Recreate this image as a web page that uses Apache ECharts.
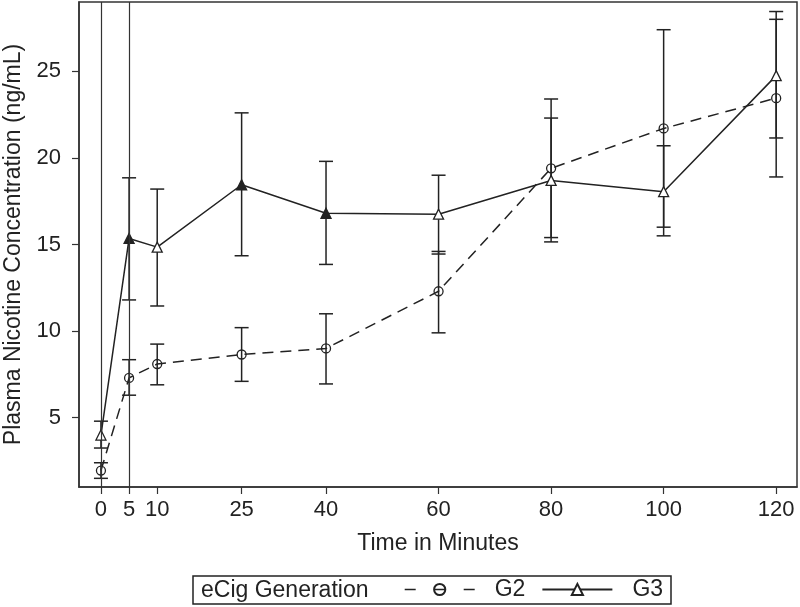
<!DOCTYPE html>
<html>
<head>
<meta charset="utf-8">
<script src="https://cdn.jsdelivr.net/npm/echarts@6/dist/echarts.min.js"></script>
<style>
html,body{margin:0;padding:0;background:#fff;}
#chart{width:800px;height:607px;}
</style>
</head>
<body>
<div id="chart"></div>
<script>
var times = [0, 5, 10, 25, 40, 60, 80, 100, 120];
var xTicks = [0, 5, 10, 25, 40, 60, 80, 100, 120];
var yTicks = [5, 10, 15, 20, 25];
var refLines = [0, 5];

var g2Mean = [1.95, 7.3, 8.1, 8.65, 9.0, 12.3, 19.4, 21.7, 23.45];
var g2Low  = [1.5, 6.3, 6.9, 7.1, 6.95, 9.9, 15.4, 16.0, 18.9];
var g2High = [2.4, 8.35, 9.25, 10.2, 11.0, 14.6, 23.4, 27.4, 28.0];

var g3Mean = [4.0, 15.35, 14.85, 18.45, 16.8, 16.75, 18.7, 18.05, 24.75];
var g3Low  = [3.25, 11.8, 11.45, 14.35, 13.85, 14.45, 15.15, 15.5, 21.15];
var g3High = [4.8, 18.85, 18.2, 22.6, 19.8, 19.0, 22.3, 20.7, 28.45];
var g3Filled = [false, true, false, true, true, false, false, false, false];

var INK = '#222';
var FONT = 'Liberation Sans, Arial, sans-serif';

function errData(lo, hi) {
  return times.map(function (t, i) { return [t, lo[i], hi[i]]; });
}
function errRender(params, api) {
  var x = api.value(0);
  var p1 = api.coord([x, api.value(1)]);
  var p2 = api.coord([x, api.value(2)]);
  var hw = 7;
  var st = { stroke: INK, lineWidth: 1.5 };
  return {
    type: 'group',
    children: [
      { type: 'line', shape: { x1: p1[0], y1: p1[1], x2: p2[0], y2: p2[1] }, style: st },
      { type: 'line', shape: { x1: p1[0] - hw, y1: p1[1], x2: p1[0] + hw, y2: p1[1] }, style: st },
      { type: 'line', shape: { x1: p2[0] - hw, y1: p2[1], x2: p2[0] + hw, y2: p2[1] }, style: st }
    ]
  };
}

var chart = echarts.init(document.getElementById('chart'));
chart.setOption({
  animation: false,
  backgroundColor: '#fff',
  textStyle: { fontFamily: FONT, color: INK },
  grid: { left: 79, right: 3, top: 2, bottom: 120, containLabel: false, outerBoundsMode: 'none', show: true, borderColor: '#333', borderWidth: 1.5, backgroundColor: '#fff' },
  xAxis: {
    type: 'value', min: -3.9, max: 123.7,
    name: 'Time in Minutes', nameLocation: 'middle', nameGap: 45,
    nameTextStyle: { fontSize: 23, color: INK, fontFamily: FONT },
    splitLine: { show: false },
    axisLine: { show: true, onZero: false, lineStyle: { color: '#333', width: 1.5 } },
    axisTick: { show: true, length: 7, customValues: xTicks, lineStyle: { color: '#333', width: 1.2 } },
    axisLabel: { customValues: xTicks, fontSize: 22, color: INK, margin: 12, fontFamily: FONT }
  },
  yAxis: {
    type: 'value', min: 1, max: 29,
    name: 'Plasma Nicotine Concentration (ng/mL)', nameLocation: 'middle', nameGap: 52,
    nameTextStyle: { fontSize: 23, color: INK, fontFamily: FONT },
    splitLine: { show: false },
    axisLine: { show: true, onZero: false, lineStyle: { color: '#333', width: 1.5 } },
    axisTick: { show: true, length: 7, customValues: yTicks, lineStyle: { color: '#333', width: 1.2 } },
    axisLabel: { customValues: yTicks, fontSize: 22, color: INK, margin: 18, fontFamily: FONT }
  },
  legend: {
    left: 404, top: 578, itemGap: 16, padding: 0,
    itemWidth: 70, itemHeight: 14,
    textStyle: { fontSize: 23, color: INK, fontFamily: FONT, padding: [0, 0, 0, 15] },
    data: [
      { name: 'G2', lineStyle: { type: [11, 18.5], color: INK, width: 1.4 } },
      { name: 'G3' }
    ]
  },
  graphic: [
    { type: 'rect', shape: { x: 193, y: 576, width: 478, height: 28 }, style: { fill: 'none', stroke: '#222', lineWidth: 1.5 } },
    { type: 'text', x: 201, y: 591, style: { text: 'eCig Generation', fontSize: 23, fontFamily: FONT, fill: INK, verticalAlign: 'middle' } }
  ],
  series: [
    {
      type: 'line', name: 'refLines', data: [], silent: true,
      markLine: {
        symbol: 'none', silent: true, label: { show: false },
        lineStyle: { color: '#333', width: 1.2, type: 'solid' },
        data: refLines.map(function (v) { return { xAxis: v }; })
      }
    },
    { type: 'custom', name: 'G2 err', renderItem: errRender, data: errData(g2Low, g2High), encode: { x: 0, y: [1, 2] }, z: 1 },
    { type: 'custom', name: 'G3 err', renderItem: errRender, data: errData(g3Low, g3High), encode: { x: 0, y: [1, 2] }, z: 1 },
    {
      type: 'line', name: 'G2', z: 3,
      data: times.map(function (t, i) { return [t, g2Mean[i]]; }),
      symbol: 'circle', symbolSize: 9,
      lineStyle: { color: INK, width: 1.5, type: [11, 7] },
      itemStyle: { color: 'rgba(255,255,255,0)', borderColor: INK, borderWidth: 1.3 }
    },
    {
      type: 'line', name: 'G3', z: 3,
      data: times.map(function (t, i) {
        return {
          value: [t, g3Mean[i]],
          itemStyle: g3Filled[i] ? { color: INK } : { color: '#fff' }
        };
      }),
      symbol: 'triangle', symbolSize: 10,
      lineStyle: { color: INK, width: 1.5, type: 'solid' },
      itemStyle: { color: '#fff', borderColor: INK, borderWidth: 1.3 }
    }
  ]
});
</script>
</body>
</html>
